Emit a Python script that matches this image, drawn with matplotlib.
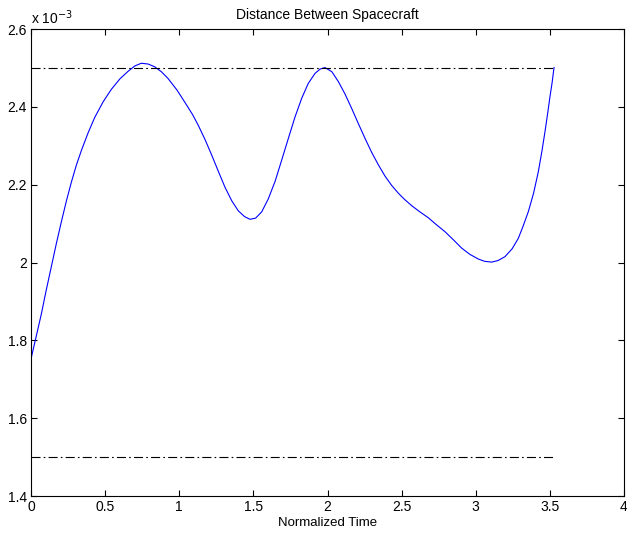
import matplotlib
matplotlib.use("Agg")
import matplotlib.pyplot as plt

plt.rcParams['font.family'] = ['Liberation Sans', 'DejaVu Sans']
plt.rcParams['lines.scale_dashes'] = False

# Normalized time and distance (x 1e-3)
time = [0.0, 0.035, 0.070, 0.100, 0.137, 0.170, 0.205, 0.240, 0.272, 0.305, 0.340,
        0.385, 0.429, 0.485, 0.542, 0.600, 0.654, 0.700, 0.744, 0.790, 0.834, 0.880,
        0.924, 0.985, 1.049, 1.090, 1.129, 1.175, 1.219, 1.265, 1.309, 1.355, 1.398,
        1.440, 1.477, 1.515, 1.556, 1.600, 1.646, 1.690, 1.736, 1.780, 1.826, 1.870,
        1.916, 1.950, 1.983, 2.030, 2.073, 2.118, 2.163, 2.208, 2.253, 2.298, 2.343,
        2.388, 2.433, 2.478, 2.520, 2.568, 2.620, 2.680, 2.735, 2.793, 2.850, 2.905,
        2.960, 3.017, 3.060, 3.107, 3.150, 3.197, 3.245, 3.287, 3.320, 3.355, 3.390,
        3.422, 3.445, 3.467, 3.485, 3.501, 3.515, 3.528]
distance = [1.752, 1.810, 1.868, 1.924, 1.989, 2.047, 2.105, 2.160, 2.206, 2.249, 2.288,
            2.333, 2.372, 2.412, 2.445, 2.472, 2.491, 2.505, 2.512, 2.510, 2.503, 2.490,
            2.473, 2.443, 2.405, 2.380, 2.352, 2.315, 2.276, 2.233, 2.193, 2.158, 2.133,
            2.118, 2.111, 2.114, 2.130, 2.163, 2.208, 2.262, 2.319, 2.373, 2.422, 2.460,
            2.486, 2.497, 2.501, 2.490, 2.465, 2.433, 2.396, 2.357, 2.319, 2.283, 2.251,
            2.222, 2.198, 2.178, 2.162, 2.146, 2.131, 2.115, 2.097, 2.079, 2.058, 2.037,
            2.021, 2.009, 2.003, 2.001, 2.005, 2.015, 2.035, 2.062, 2.094, 2.131, 2.178,
            2.233, 2.283, 2.336, 2.383, 2.427, 2.462, 2.501]
upper_limit = 2.5
lower_limit = 1.5
limit_span = [0.0, 3.528]

xticks = [0, 0.5, 1, 1.5, 2, 2.5, 3, 3.5, 4]
xticklabels = ['0', '0.5', '1', '1.5', '2', '2.5', '3', '3.5', '4']
yticks = [1.4, 1.6, 1.8, 2.0, 2.2, 2.4, 2.6]
yticklabels = ['1.4', '1.6', '1.8', '2', '2.2', '2.4', '2.6']

fig = plt.figure(figsize=(6.27, 5.33), dpi=100)
ax = fig.add_axes([31/627, 1 - 496/533, (624 - 31)/627, (496 - 29)/533])

scale = 1e-3
ax.plot(time, [d * scale for d in distance], color=(0, 0, 1), lw=0.8,
        solid_joinstyle='round')
for lim in (upper_limit, lower_limit):
    ax.plot(limit_span, [lim * scale, lim * scale], color='black', lw=0.8,
            dashes=(6.5, 2.3, 1.2, 2.3))

ax.set_xlim(0, 4)
ax.set_ylim(1.4 * scale, 2.6 * scale)
ax.set_xticks(xticks)
ax.set_xticklabels(xticklabels)
ax.set_yticks([y * scale for y in yticks])
ax.set_yticklabels(yticklabels)

ax.tick_params(direction='in', top=True, right=True, length=4.5, width=0.8,
               labelsize=10, pad=3)
for s in ax.spines.values():
    s.set_linewidth(0.8)

ax.set_xlabel('Normalized Time', fontsize=9.5, labelpad=2)
ax.set_title('Distance Between Spacecraft', fontsize=10, pad=7)
ax.text(0, 1.005, r'x 10$^{-3}$', transform=ax.transAxes, fontsize=10,
        ha='left', va='bottom')

fig.savefig('out.png', dpi=100)
